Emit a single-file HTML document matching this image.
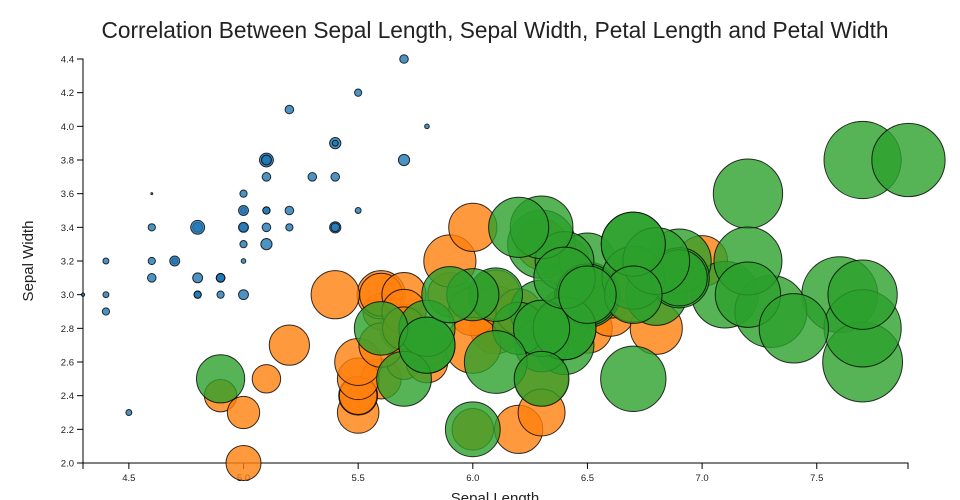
<!DOCTYPE html>
<html><head><meta charset="utf-8"><style>
html,body{margin:0;padding:0;background:#fff;width:960px;height:500px;overflow:hidden}
svg{display:block;font-family:"Liberation Sans",sans-serif}
</style></head><body>
<svg id="c" width="960" height="500" xmlns="http://www.w3.org/2000/svg"></svg>
<script>
const S=`5.1,3.5,1.4 4.9,3.0,1.4 4.7,3.2,1.3 4.6,3.1,1.5 5.0,3.6,1.4 5.4,3.9,1.7 4.6,3.4,1.4 5.0,3.4,1.5 4.4,2.9,1.4 4.9,3.1,1.5 5.4,3.7,1.5 4.8,3.4,1.6 4.8,3.0,1.4 4.3,3.0,1.1 5.8,4.0,1.2 5.7,4.4,1.5 5.4,3.9,1.3 5.1,3.5,1.4 5.7,3.8,1.7 5.1,3.8,1.5 5.4,3.4,1.7 5.1,3.7,1.5 4.6,3.6,1.0 5.1,3.3,1.7 4.8,3.4,1.9 5.0,3.0,1.6 5.0,3.4,1.6 5.2,3.5,1.5 5.2,3.4,1.4 4.7,3.2,1.6 4.8,3.1,1.6 5.4,3.4,1.5 5.2,4.1,1.5 5.5,4.2,1.4 4.9,3.1,1.5 5.0,3.2,1.2 5.5,3.5,1.3 4.9,3.1,1.5 4.4,3.0,1.3 5.1,3.4,1.5 5.0,3.5,1.3 4.5,2.3,1.3 4.4,3.2,1.3 5.0,3.5,1.6 5.1,3.8,1.9 4.8,3.0,1.4 5.1,3.8,1.6 4.6,3.2,1.4 5.3,3.7,1.5 5.0,3.3,1.4`;
const V=`7.0,3.2,4.7 6.4,3.2,4.5 6.9,3.1,4.9 5.5,2.3,4.0 6.5,2.8,4.6 5.7,2.8,4.5 6.3,3.3,4.7 4.9,2.4,3.3 6.6,2.9,4.6 5.2,2.7,3.9 5.0,2.0,3.5 5.9,3.0,4.2 6.0,2.2,4.0 6.1,2.9,4.7 5.6,2.9,3.6 6.7,3.1,4.4 5.6,3.0,4.5 5.8,2.7,4.1 6.2,2.2,4.5 5.6,2.5,3.9 5.9,3.2,4.8 6.1,2.8,4.0 6.3,2.5,4.9 6.1,2.8,4.7 6.4,2.9,4.3 6.6,3.0,4.4 6.8,2.8,4.8 6.7,3.0,5.0 6.0,2.9,4.5 5.7,2.6,3.5 5.5,2.4,3.8 5.5,2.4,3.7 5.8,2.7,3.9 6.0,2.7,5.1 5.4,3.0,4.5 6.0,3.4,4.5 6.7,3.1,4.7 6.3,2.3,4.4 5.6,3.0,4.1 5.5,2.5,4.0 5.5,2.6,4.4 6.1,3.0,4.6 5.8,2.6,4.0 5.0,2.3,3.3 5.6,2.7,4.2 5.7,3.0,4.2 5.7,2.9,4.2 6.2,2.9,4.3 5.1,2.5,3.0 5.7,2.8,4.1`;
const G=`6.3,3.3,6.0 5.8,2.7,5.1 7.1,3.0,5.9 6.3,2.9,5.6 6.5,3.0,5.8 7.6,3.0,6.6 4.9,2.5,4.5 7.3,2.9,6.3 6.7,2.5,5.8 7.2,3.6,6.1 6.5,3.2,5.1 6.4,2.7,5.3 6.8,3.0,5.5 5.7,2.5,5.0 5.8,2.8,5.1 6.4,3.2,5.3 6.5,3.0,5.5 7.7,3.8,6.7 7.7,2.6,6.9 6.0,2.2,5.0 6.9,3.2,5.7 5.6,2.8,4.9 7.7,2.8,6.7 6.3,2.7,4.9 6.7,3.3,5.7 7.2,3.2,6.0 6.2,2.8,4.8 6.1,3.0,4.9 6.4,2.8,5.6 7.2,3.0,5.8 7.4,2.8,6.1 7.9,3.8,6.4 6.4,2.8,5.6 6.3,2.8,5.1 6.1,2.6,5.6 7.7,3.0,6.1 6.3,3.4,5.6 6.4,3.1,5.5 6.0,3.0,4.8 6.9,3.1,5.4 6.7,3.1,5.6 6.9,3.1,5.1 5.8,2.7,5.1 6.8,3.2,5.9 6.7,3.3,5.7 6.7,3.0,5.2 6.3,2.5,5.0 6.5,3.0,5.2 6.2,3.4,5.4 5.9,3.0,5.1`;
const X=v=>83+(v-4.3)*229.3, Y=v=>463-(v-2.0)*168.33;
let h='';
h+=`<text x="495" y="38" text-anchor="middle" font-size="22.7" fill="#222">Correlation Between Sepal Length, Sepal Width, Petal Length and Petal Width</text>`;
h+=`<text transform="translate(33,261) rotate(-90)" text-anchor="middle" font-size="15" fill="#222">Sepal Width</text>`;
h+=`<text x="495" y="503" text-anchor="middle" font-size="15" fill="#222">Sepal Length</text>`;
h+=`<path d="M77,59H83V463H77" fill="none" stroke="#000"/>`;
for(let i=0;i<=12;i++){const v=2+i*0.2,y=Y(v);h+=`<line x1="77" x2="83" y1="${y}" y2="${y}" stroke="#000"/><text x="74" y="${y+3.5}" text-anchor="end" font-size="9.5" fill="#222">${v.toFixed(1)}</text>`;}
h+=`<path d="M83,469V463H908V469" fill="none" stroke="#000"/>`;
for(let v=4.5;v<=7.51;v+=0.5){const x=X(v);h+=`<line x1="${x}" x2="${x}" y1="463" y2="469" stroke="#000"/><text x="${x}" y="481" text-anchor="middle" font-size="9.5" fill="#222">${v.toFixed(1)}</text>`;}
function draw(s,col){s.trim().split(/\s+/).forEach(t=>{const[a,b,c]=t.split(',').map(Number);const r=1+(c-1)*6.6;h+=`<circle cx="${X(a)}" cy="${Y(b)}" r="${r}" fill="${col}" fill-opacity="0.8" stroke="#000" stroke-opacity="0.8"/>`;});}
draw(S,'#1f77b4');draw(V,'#ff7f0e');draw(G,'#2ca02c');
document.getElementById('c').innerHTML=h;
</script>
</body></html>
